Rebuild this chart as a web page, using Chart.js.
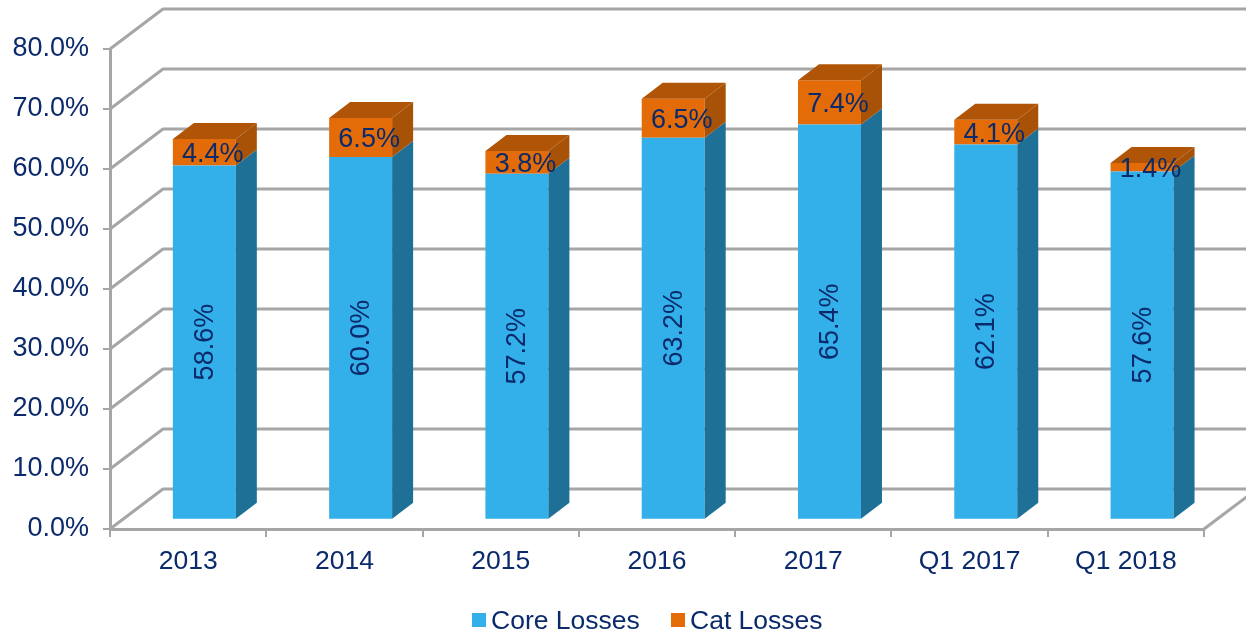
<!DOCTYPE html>
<html>
<head>
<meta charset="utf-8">
<style>
    html, body { margin: 0; padding: 0; background: #fff; }
    canvas { display: block; }
</style>
<script src="https://cdn.jsdelivr.net/npm/chart.js@4"></script>
</head>
<body>
<canvas id="lossChart" width="1246" height="632"></canvas>
<script>
const categories = ['2013', '2014', '2015', '2016', '2017', 'Q1 2017', 'Q1 2018'];
const coreLosses = [58.6, 60.0, 57.2, 63.2, 65.4, 62.1, 57.6];
const catLosses = [4.4, 6.5, 3.8, 6.5, 7.4, 4.1, 1.4];

const TEXT = '#0b2a6b';
const GRID = '#a6a6a6';
const FONT = '"Liberation Sans", Arial, sans-serif';

// fake 3D: wall depth and how far the bars sit in from the front of the floor
const WALL_DX = 53, WALL_DY = -40;
const BAR_DX = 21, BAR_DY = -16;
const SHIFT_X = 16.2, SHIFT_Y = -12;

const sideColors = ['#1f7096', '#a85208'];
const topColor = '#b05407';

const fake3d = {
    id: 'fake3d',
    beforeDatasetsDraw(chart) {
        const { ctx, chartArea: area, scales: { y } } = chart;
        ctx.save();
        ctx.strokeStyle = GRID;
        ctx.lineWidth = 3;
        ctx.lineJoin = 'round';
        y.ticks.forEach(t => {
            const py = y.getPixelForValue(t.value);
            ctx.beginPath();
            ctx.moveTo(area.left, py);
            ctx.lineTo(area.left + WALL_DX, py + WALL_DY);
            ctx.lineTo(chart.width + 5, py + WALL_DY);
            ctx.stroke();
        });
        // right edge of the floor
        ctx.beginPath();
        ctx.moveTo(area.right, area.bottom);
        ctx.lineTo(area.right + WALL_DX, area.bottom + WALL_DY);
        ctx.stroke();
        ctx.restore();

        ctx.save();
        ctx.translate(SHIFT_X, SHIFT_Y);
    },
    afterDatasetsDraw(chart) {
        const { ctx } = chart;
        chart.data.datasets.forEach((ds, d) => {
            chart.getDatasetMeta(d).data.forEach(bar => {
                const right = bar.x + bar.width / 2;
                ctx.fillStyle = sideColors[d];
                ctx.beginPath();
                ctx.moveTo(right, bar.base);
                ctx.lineTo(right + BAR_DX, bar.base + BAR_DY);
                ctx.lineTo(right + BAR_DX, bar.y + BAR_DY);
                ctx.lineTo(right, bar.y);
                ctx.closePath();
                ctx.fill();
            });
        });
        // lid on top of the stack
        chart.getDatasetMeta(1).data.forEach(bar => {
            const left = bar.x - bar.width / 2, right = bar.x + bar.width / 2;
            ctx.fillStyle = topColor;
            ctx.beginPath();
            ctx.moveTo(left, bar.y);
            ctx.lineTo(left + BAR_DX, bar.y + BAR_DY);
            ctx.lineTo(right + BAR_DX, bar.y + BAR_DY);
            ctx.lineTo(right, bar.y);
            ctx.closePath();
            ctx.fill();
        });
        // value labels
        ctx.fillStyle = TEXT;
        ctx.font = '27px ' + FONT;
        ctx.textAlign = 'center';
        ctx.textBaseline = 'middle';
        chart.getDatasetMeta(0).data.forEach((bar, i) => {
            ctx.save();
            ctx.translate(bar.x + 1, (bar.y + bar.base) / 2);
            ctx.rotate(-Math.PI / 2);
            ctx.fillText(coreLosses[i].toFixed(1) + '%', 0, 0);
            ctx.restore();
        });
        chart.getDatasetMeta(1).data.forEach((bar, i) => {
            ctx.fillText(catLosses[i].toFixed(1) + '%', bar.x + 8.5, (bar.y + bar.base) / 2 + 2);
        });
        ctx.restore();

        // legend, the built-in one leaves too wide a gap after the swatch
        ctx.save();
        ctx.font = '26.5px ' + FONT;
        ctx.textAlign = 'left';
        ctx.textBaseline = 'middle';
        [472, 671].forEach((x, i) => {
            const ds = chart.data.datasets[i];
            ctx.fillStyle = ds.backgroundColor;
            ctx.fillRect(x, 613, 14, 14);
            ctx.fillStyle = TEXT;
            ctx.fillText(ds.label, x + 19, 622);
        });
        ctx.restore();
    }
};

new Chart(document.getElementById('lossChart').getContext('2d'), {
    type: 'bar',
    data: {
        labels: categories,
        datasets: [{
            label: 'Core Losses',
            data: coreLosses,
            backgroundColor: '#33afe9',
            base: -0.3,
            clip: false
        }, {
            label: 'Cat Losses',
            data: catLosses,
            backgroundColor: '#e36c09',
            clip: false
        }]
    },
    options: {
        responsive: false,
        animation: false,
        barPercentage: 0.403,
        categoryPercentage: 1,
        layout: { padding: { top: 49, right: 42, left: 0, bottom: 0 } },
        plugins: {
            legend: { display: false },
            tooltip: { enabled: false }
        },
        scales: {
            x: {
                stacked: true,
                afterFit: scale => { scale.height = 103; },
                grid: { offset: true, drawOnChartArea: false, color: GRID, lineWidth: 2, tickLength: 8 },
                border: { color: GRID, width: 3 },
                ticks: { color: TEXT, font: { family: FONT, size: 26.5 }, padding: 9, maxRotation: 0 }
            },
            y: {
                stacked: true,
                min: 0,
                max: 80,
                afterFit: scale => { scale.width = 110; },
                grid: { drawOnChartArea: false, color: GRID, lineWidth: 2, tickLength: 7 },
                border: { color: GRID, width: 3 },
                ticks: {
                    stepSize: 10,
                    color: TEXT,
                    font: { family: FONT, size: 27 },
                    padding: 14,
                    callback: v => v.toFixed(1) + '%'
                }
            }
        }
    },
    plugins: [fake3d]
});
</script>
</body>
</html>
